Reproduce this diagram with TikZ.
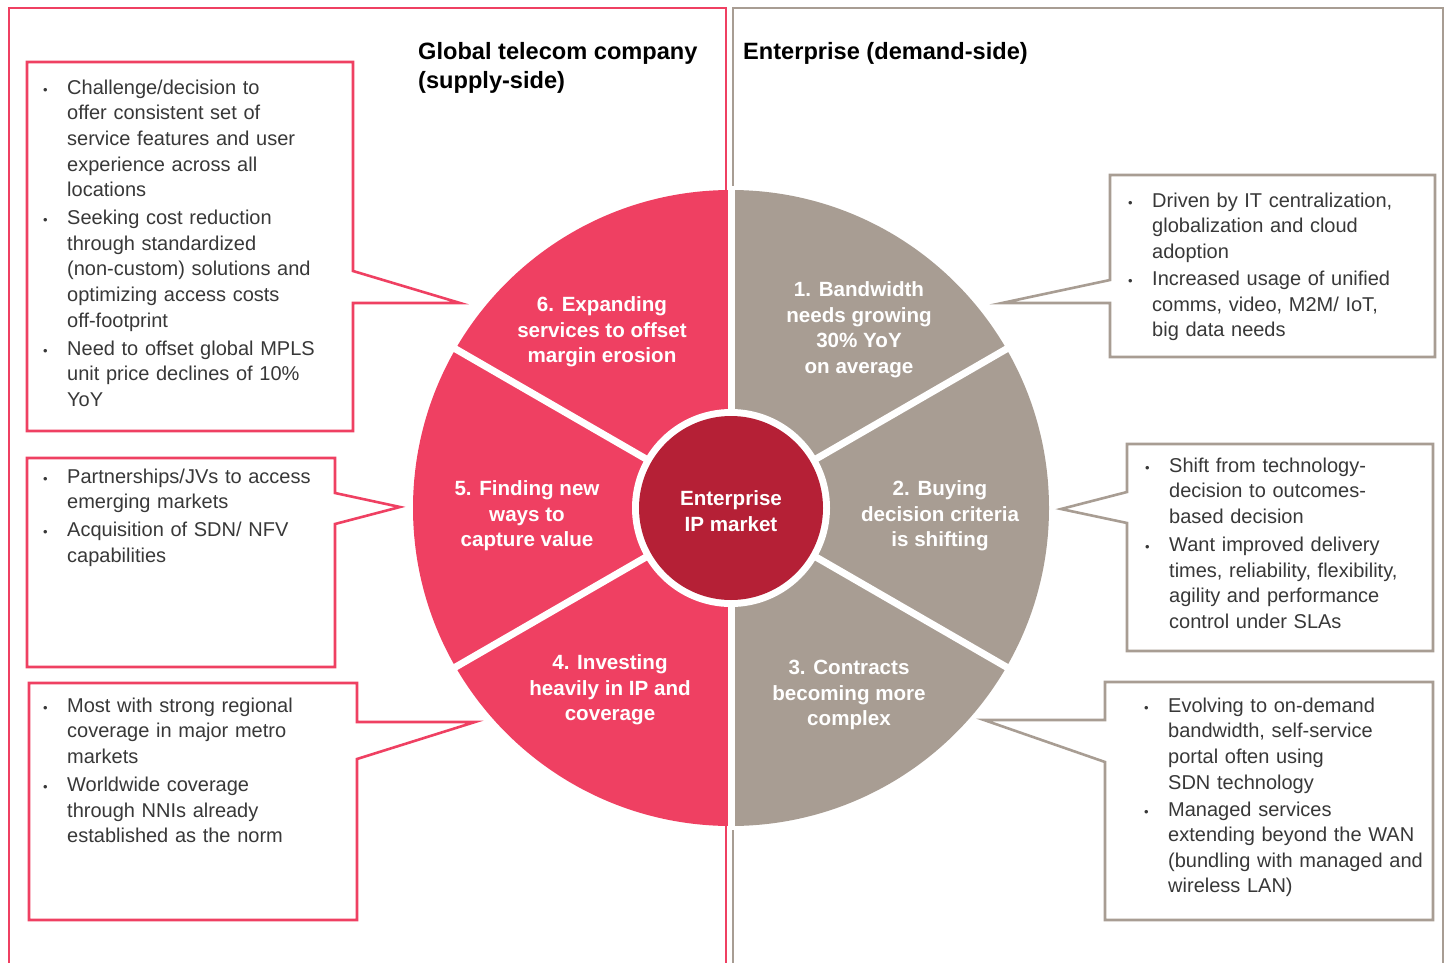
\documentclass[tikz,border=0pt]{standalone}
\usepackage{fontspec}
\setmainfont{Liberation Sans}
\usepackage{tikz}
\usetikzlibrary{positioning}

\definecolor{telred}{HTML}{EF4062}
\definecolor{entgray}{HTML}{A89D93}
\definecolor{hubred}{HTML}{B52036}
\definecolor{bodytxt}{HTML}{383838}

\newcommand{\bul}{\leavevmode\llap{\makebox[24pt][l]{\fontsize{13}{13}\selectfont\textbullet}}}

\begin{document}
\begin{tikzpicture}[x=1pt,y=-1pt,
  frame/.style={line width=2.8pt, line join=miter},
  callout/.style={line width=2.6pt, line join=miter, fill=white},
  seglbl/.style={text=white, font=\fontsize{20.6}{25.5}\selectfont\bfseries, align=center, anchor=north, inner sep=0pt},
  bodylist/.style={text=bodytxt, font=\fontsize{20}{25.6}\selectfont, align=left, text width=340pt, anchor=north west, inner sep=0pt},
  title/.style={font=\fontsize{23.6}{29}\selectfont\bfseries, align=left, anchor=north west, inner sep=0pt},
  spoke/.style={draw=white, line width=7pt}
]
\useasboundingbox (0,0) rectangle (1448,963);

\draw[frame, telred] (9,970) -- (9,8) -- (726,8) -- (726,970);
\draw[frame, entgray] (733,970) -- (733,8) -- (1443,8) -- (1443,970);

\coordinate (hub) at (731,508);
\fill[telred] (731,190) arc[start angle=-90, end angle=-270, radius=318] -- cycle;
\fill[entgray] (731,190) arc[start angle=-90, end angle=90, radius=318] -- cycle;
\foreach \a in {30,90,150,210,270,330}
  \draw[spoke] (hub) -- ++(\a:322);
\fill[white] (hub) circle[radius=99];
\fill[hubred] (hub) circle[radius=92];

\node[seglbl] (hublbl) at (731,487.6) {\strut Enterprise\\IP market};
\node[seglbl] (seg1) at (859,278.6) {\strut 1. Bandwidth\\needs growing\\30\% YoY\\on average};
\node[seglbl] (seg2) at (940,477.6) {\strut 2. Buying\\decision criteria\\is shifting};
\node[seglbl] (seg3) at (849,656.6) {\strut 3. Contracts\\becoming more\\complex};
\node[seglbl] (seg4) at (610,651.6) {\strut 4. Investing\\heavily in IP and\\coverage};
\node[seglbl] (seg5) at (527,477.6) {\strut 5. Finding new\\ways to\\capture value};
\node[seglbl] (seg6) at (602,293.6) {\strut 6. Expanding\\services to offset\\margin erosion};

\node[title] (supply) at (418,38.7) {\strut Global telecom company\\(supply-side)};
\node[title] (demand) at (743,38.7) {\strut Enterprise (demand-side)};

\draw[callout, draw=telred] (27,62) -- (353,62) -- (353,271) -- (460,303) -- (353,303) -- (353,431) -- (27,431) -- cycle;
\draw[callout, draw=telred] (27,458) -- (335,458) -- (335,493) -- (400,507) -- (335,524) -- (335,667) -- (27,667) -- cycle;
\draw[callout, draw=telred] (29,683) -- (357,683) -- (357,722) -- (475,722) -- (357,759) -- (357,920) -- (29,920) -- cycle;
\draw[callout, draw=entgray] (1110,175) -- (1435,175) -- (1435,357) -- (1110,357) -- (1110,303) -- (1002,303) -- (1110,280) -- cycle;
\draw[callout, draw=entgray] (1127,444) -- (1433,444) -- (1433,651) -- (1127,651) -- (1127,523) -- (1061,509) -- (1127,492) -- cycle;
\draw[callout, draw=entgray] (1105,682) -- (1433,682) -- (1433,920) -- (1105,920) -- (1105,762) -- (984,720) -- (1105,720) -- cycle;

\node[bodylist] (supply1) at (67,76.1) {\strut\bul Challenge/decision to\\offer consistent set of\\service features and user\\experience across all\\locations\\[2.5pt]%
\bul Seeking cost reduction\\through standardized\\(non-custom) solutions and\\optimizing access costs\\off-footprint\\[2.5pt]%
\bul Need to offset global MPLS\\unit price declines of 10\%\\YoY};
\node[bodylist] (supply2) at (67,465.1) {\strut\bul Partnerships/JVs to access\\emerging markets\\[2.5pt]%
\bul Acquisition of SDN/ NFV\\capabilities};
\node[bodylist] (supply3) at (67,694.1) {\strut\bul Most with strong regional\\coverage in major metro\\markets\\[2.5pt]%
\bul Worldwide coverage\\through NNIs already\\established as the norm};
\node[bodylist] (demand1) at (1152,189.1) {\strut\bul Driven by IT centralization,\\globalization and cloud\\adoption\\[1.5pt]%
\bul Increased usage of unified\\comms, video, M2M/ IoT,\\big data needs};
\node[bodylist] (demand2) at (1169,454.1) {\strut\bul Shift from technology-\\decision to outcomes-\\based decision\\[2.5pt]%
\bul Want improved delivery\\times, reliability, flexibility,\\agility and performance\\control under SLAs};
\node[bodylist] (demand3) at (1168,694.1) {\strut\bul Evolving to on-demand\\bandwidth, self-service\\portal often using\\SDN technology\\[1.5pt]%
\bul Managed services\\extending beyond the WAN\\(bundling with managed and\\wireless LAN)};
\end{tikzpicture}
\end{document}
